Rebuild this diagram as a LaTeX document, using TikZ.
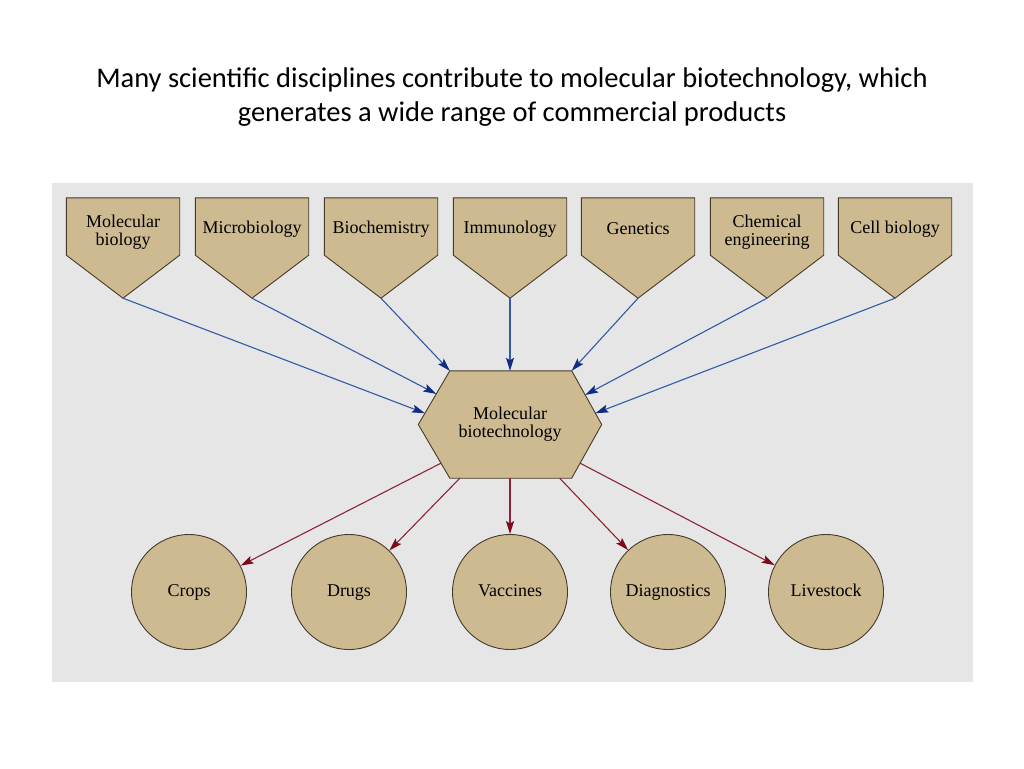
\documentclass[tikz,border=0pt]{standalone}
\usepackage{fontspec}
\setmainfont{Liberation Serif}
\newfontfamily\titlefont{Carlito}
\usetikzlibrary{arrows.meta,calc,backgrounds}
\definecolor{tan}{RGB}{205,186,145}
\definecolor{edgeclr}{RGB}{70,58,42}
\definecolor{panelgray}{RGB}{230,230,230}
\definecolor{inblue}{RGB}{50,90,165}
\definecolor{headblue}{RGB}{15,45,130}
\definecolor{outred}{RGB}{140,35,55}
\definecolor{headred}{RGB}{125,10,25}
\tikzset{
  labeltext/.style={align=center,font=\fontsize{18}{18}\selectfont,inner sep=0pt},
  field/.style={minimum width=113pt,minimum height=57pt,inner sep=0pt},
  penta/.style={fill=tan,draw=edgeclr,line width=0.9pt,line join=miter},
  hub/.style={minimum width=183pt,minimum height=107pt,inner sep=0pt},
  product/.style={circle,minimum size=115pt,inner sep=0pt,fill=tan,draw=edgeclr,line width=0.9pt,
    font=\fontsize{18}{18}\selectfont,text height=12.5pt,text depth=4pt},
  feed/.style={-{Stealth[length=13pt,width=8pt,inset=2.5pt,color=headblue]},draw=inblue,line width=1.1pt},
  yield/.style={-{Stealth[length=13pt,width=8pt,inset=2.5pt,color=headred]},draw=outred,line width=1.1pt}
}
\begin{document}
\begin{tikzpicture}[x=1pt,y=-1pt]
\useasboundingbox (0,0) rectangle (1024,768);
\begin{scope}[on background layer]
\fill[panelgray] (52,183) rectangle (973,682);
\end{scope}
\node[font=\titlefont\fontsize{28.5}{34}\selectfont,align=center] (title) at (512,97)
  {Many scientific disciplines contribute to molecular biotechnology, which\\generates a wide range of commercial products};
% disciplines
\foreach \x/\n/\s/\t in {123/molbio/6/{Molecular\\biology},252/micro/2.5/Microbiology,381/biochem/2.5/Biochemistry,
  510/immuno/2.5/Immunology,638/gen/2.5/Genetics,767/chem/6/{Chemical\\engineering},895/cell/2.5/{Cell biology}}{
  \node[field,label={[labeltext,yshift=-\s pt]center:\t}] (\n) at (\x,226.5) {};
  \coordinate (\n-tip) at ($(\n.south)+(0,43)$);
  \begin{scope}[on background layer]
  \draw[penta] (\n.north west) -- (\n.north east) -- (\n.south east) -- (\n-tip) -- (\n.south west) -- cycle;
  \end{scope}
}
% hexagon
\node[hub,label={[labeltext]center:Molecular\\biotechnology}] (mbt) at (510,424.5) {};
\coordinate (mbt-nw) at ($(mbt.north west)+(31.5,0)$);
\coordinate (mbt-ne) at ($(mbt.north east)+(-30,0)$);
\coordinate (mbt-sw) at ($(mbt.south west)+(31.5,0)$);
\coordinate (mbt-se) at ($(mbt.south east)+(-30,0)$);
\begin{scope}[on background layer]
\draw[penta] (mbt.west) -- (mbt-nw) -- (mbt-ne) -- (mbt.east) -- (mbt-se) -- (mbt-sw) -- cycle;
\end{scope}
% products
\node[product] (crops) at (189,592) {Crops};
\node[product] (drugs) at (349,592) {Drugs};
\node[product] (vacc) at (510,592) {Vaccines};
\node[product] (diag) at (668,592) {Diagnostics};
\node[product] (live) at (826,592) {Livestock};
\draw[feed] (molbio-tip) -- ($(mbt.west)!0.21!(mbt-nw)$);
\draw[feed] (micro-tip) -- ($(mbt.west)!0.57!(mbt-nw)$);
\draw[feed] (biochem-tip) -- (mbt-nw);
\draw[feed] (immuno-tip) -- (mbt.north);
\draw[feed] (gen-tip) -- (mbt-ne);
\draw[feed] (chem-tip) -- ($(mbt.east)!0.55!(mbt-ne)$);
\draw[feed] (cell-tip) -- ($(mbt.east)!0.21!(mbt-ne)$);
\draw[yield] ($(mbt.west)!0.72!(mbt-sw)$) -- (crops);
\draw[yield] ($(mbt-sw)+(10,0)$) -- (drugs);
\draw[yield] (mbt.south) -- (vacc);
\draw[yield] ($(mbt-se)+(-12,0)$) -- (diag);
\draw[yield] ($(mbt.east)!0.72!(mbt-se)$) -- (live);
\end{tikzpicture}
\end{document}
